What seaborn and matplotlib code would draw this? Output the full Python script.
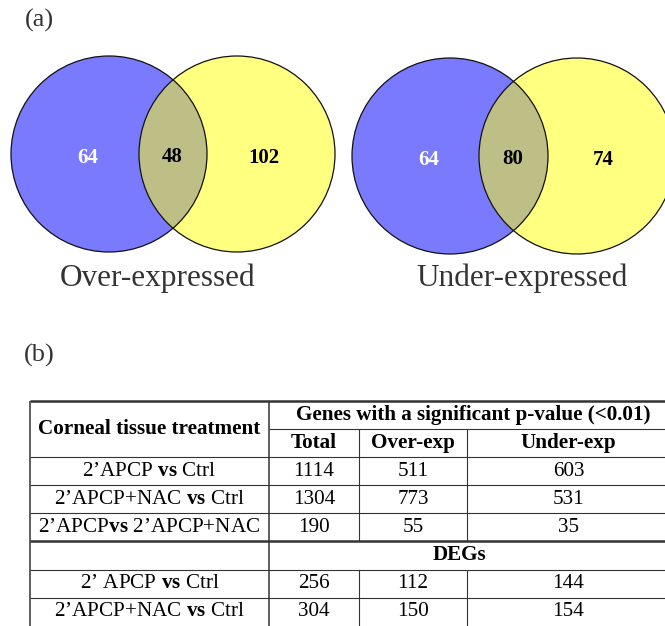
import numpy as np
import matplotlib
matplotlib.use("Agg")
import matplotlib.pyplot as plt
import seaborn as sns
from matplotlib.patches import Circle

# ---- data ----
venn_titles = ["Over-expressed", "Under-expressed"]
only_a = [64, 64]
both = [48, 80]
only_b = [102, 74]

sig_labels = ["2’APCP $\\mathbf{vs}$ Ctrl",
              "2’APCP+NAC $\\mathbf{vs}$ Ctrl",
              "2’APCP$\\mathbf{vs}$ 2’APCP+NAC"]
sig_total = [1114, 1304, 190]
sig_over = [511, 773, 55]
sig_under = [603, 531, 35]

deg_labels = ["2’ APCP $\\mathbf{vs}$ Ctrl",
              "2’APCP+NAC $\\mathbf{vs}$ Ctrl"]
deg_total = [256, 304]
deg_over = [112, 150]
deg_under = [144, 154]

header_main = "Corneal tissue treatment"
header_span = "Genes with a significant p-value (<0.01)"
header_cols = ["Total", "Over-exp", "Under-exp"]
deg_title = "DEGs"

# ---- style ----
BLUE = "#7a7aff"
YELLOW = "#ffff80"
OLIVE = "#bebe87"
LINE = "#333333"
TXT = "#333333"
FS_TABLE = 15.2
FS_NUM = 15
FS_TITLE = 22.5
FS_PANEL = 19

sns.set_theme(style="white")
plt.rcParams['font.family'] = ['Liberation Serif', 'DejaVu Serif']
plt.rcParams['mathtext.fontset'] = 'custom'
plt.rcParams['mathtext.rm'] = 'Liberation Serif'
plt.rcParams['mathtext.it'] = 'Liberation Serif:italic'
plt.rcParams['mathtext.bf'] = 'Liberation Serif:bold'

W, H = 665, 626
fig = plt.figure(figsize=(W / 100, H / 100), dpi=100)
ax = fig.add_axes([0, 0, 1, 1])
ax.set_xlim(0, W)
ax.set_ylim(H, 0)
sns.despine(ax=ax, left=True, bottom=True)
ax.axis("off")

# ---- panel (a): venn diagrams ----
ax.text(39, 20, "(a)", fontsize=FS_PANEL, color=TXT, ha="center", va="center")

R = 98
venn_cx = [(109, 237), (450, 577)]
venn_cy = [154, 156]
title_x = [158, 522]
for i in range(2):
    xa, xb = venn_cx[i]
    cy = venn_cy[i]
    ca = Circle((xa, cy), R, fc=BLUE, ec="none")
    cb = Circle((xb, cy), R, fc=YELLOW, ec="none")
    ax.add_patch(ca)
    ax.add_patch(cb)
    inter = Circle((xa, cy), R, fc=OLIVE, ec="none")
    ax.add_patch(inter)
    inter.set_clip_path(cb)
    ax.add_patch(Circle((xa, cy), R, fill=False, ec="#111111", lw=0.9))
    ax.add_patch(Circle((xb, cy), R, fill=False, ec="#111111", lw=0.9))
    ax.text(xa - 0.22 * R, cy + 4, str(only_a[i]), color="white",
            fontsize=FS_NUM, fontweight="bold", ha="center", va="center")
    ax.text((xa + xb) / 2 - 1, cy + 3, str(both[i]), color="black",
            fontsize=FS_NUM, fontweight="bold", ha="center", va="center")
    ax.text(xb + 0.27 * R, cy + 4, str(only_b[i]), color="black",
            fontsize=FS_NUM, fontweight="bold", ha="center", va="center")
    ax.text(title_x[i], 278, venn_titles[i], color=TXT,
            fontsize=FS_TITLE, ha="center", va="center")

# ---- panel (b): table ----
ax.text(39, 355, "(b)", fontsize=FS_PANEL, color=TXT, ha="center", va="center")

col_edges = [30, 269, 359, 467, 670]
row_edges = [401, 429, 457, 485, 513, 541, 570, 598, 626]
thin, thick = 0.8, 1.8
x0, x1 = col_edges[0], col_edges[-1]

ax.hlines(row_edges[0], x0, x1, color=LINE, lw=thick)
ax.hlines(row_edges[1], col_edges[1], x1, color=LINE, lw=thin)
for y in row_edges[2:5] + row_edges[6:8]:
    ax.hlines(y, x0, x1, color=LINE, lw=thin)
ax.hlines(row_edges[5], x0, x1, color=LINE, lw=thick)
ax.vlines([col_edges[0], col_edges[1]], row_edges[0], H, color=LINE, lw=1.1)
ax.vlines(col_edges[2:4], row_edges[1], row_edges[5], color=LINE, lw=thin)
ax.vlines(col_edges[2:4], row_edges[6], H, color=LINE, lw=thin)

col_c = [(col_edges[j] + col_edges[j + 1]) / 2 for j in range(4)]
row_c = [(row_edges[k] + row_edges[k + 1]) / 2 for k in range(len(row_edges) - 1)]

ax.text(col_c[0], (row_edges[0] + row_edges[2]) / 2, header_main, fontsize=FS_TABLE,
        fontweight="bold", color="black", ha="center", va="center")
ax.text((col_edges[1] + x1) / 2 + 4, row_c[0], header_span, fontsize=FS_TABLE,
        fontweight="bold", color="black", ha="center", va="center")
for j, lab in enumerate(header_cols):
    ax.text(col_c[j + 1], row_c[1], lab, fontsize=FS_TABLE, fontweight="bold",
            color="black", ha="center", va="center")

for k in range(len(sig_labels)):
    y = row_c[2 + k]
    ax.text(col_c[0], y, sig_labels[k], fontsize=FS_TABLE, color="black", ha="center", va="center")
    for j, v in enumerate([sig_total[k], sig_over[k], sig_under[k]]):
        ax.text(col_c[j + 1], y, str(v), fontsize=FS_TABLE, color="black", ha="center", va="center")

ax.text((col_edges[1] + x1) / 2 - 10, row_c[5], deg_title, fontsize=FS_TABLE,
        fontweight="bold", color="black", ha="center", va="center")

for k in range(len(deg_labels)):
    y = row_c[6 + k]
    ax.text(col_c[0], y, deg_labels[k], fontsize=FS_TABLE, color="black", ha="center", va="center")
    for j, v in enumerate([deg_total[k], deg_over[k], deg_under[k]]):
        ax.text(col_c[j + 1], y, str(v), fontsize=FS_TABLE, color="black", ha="center", va="center")

fig.savefig("out.png", dpi=100)
